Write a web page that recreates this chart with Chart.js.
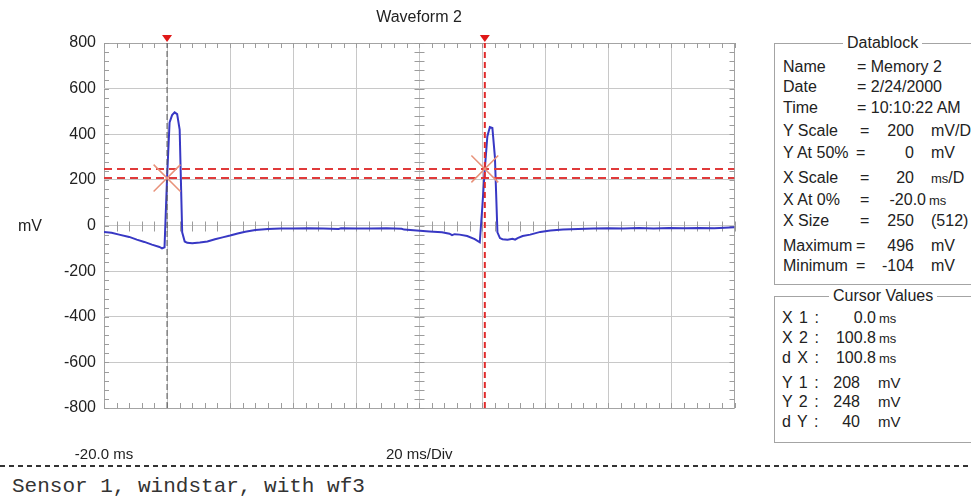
<!DOCTYPE html>
<html>
<head>
<meta charset="utf-8">
<script src="https://cdn.jsdelivr.net/npm/chart.js@4.4.1/dist/chart.umd.min.js"></script>
<style>
  body { margin: 0; width: 971px; height: 497px; overflow: hidden; background: #fff; position: relative;
         font-family: "Liberation Sans", Arial, sans-serif; color: #222; }
  .t { position: absolute; font-size: 16px; line-height: 18px; white-space: nowrap; }
  .r { text-align: right; }
  .u { font-size: 13px; }
  .box { position: absolute; border: 1px solid #a4a4a4; box-shadow: 1px 1px 0 #fff inset; }
  .cap { position: absolute; background: #fff; padding: 0 4px; font-size: 16px; line-height: 18px; }
</style>
</head>
<body>
<canvas id="scope" width="755" height="470" style="position:absolute;left:0;top:0"></canvas>

<div class="t" style="left:0;width:838px;top:8px;text-align:center">Waveform 2</div>
<div class="t" style="left:18px;top:217px">mV</div>

<!-- Datablock -->
<div class="box" style="left:774px;top:43px;width:240px;height:240px"></div>
<div class="cap" style="left:843px;top:34px">Datablock</div>
<div class="t" style="left:783px;top:58px">Name</div><div class="t" style="left:857px;top:58px">= Memory 2</div>
<div class="t" style="left:783px;top:78px">Date</div><div class="t" style="left:857px;top:78px">= 2/24/2000</div>
<div class="t" style="left:783px;top:99px">Time</div><div class="t" style="left:857px;top:99px">= 10:10:22 AM</div>
<div class="t" style="left:783px;top:122px">Y Scale</div><div class="t" style="left:860px;top:122px">=</div>
<div class="t r" style="left:870px;width:44px;top:122px">200</div><div class="t" style="left:931px;top:122px">mV/D</div>
<div class="t" style="left:783px;top:144px">Y At 50%</div><div class="t" style="left:856px;top:144px">=</div>
<div class="t r" style="left:870px;width:44px;top:144px">0</div><div class="t" style="left:931px;top:144px">mV</div>
<div class="t" style="left:783px;top:169px">X Scale</div><div class="t" style="left:860px;top:169px">=</div>
<div class="t r" style="left:870px;width:44px;top:169px">20</div><div class="t" style="left:931px;top:169px"><span class="u">ms</span>/D</div>
<div class="t" style="left:783px;top:191px">X At 0%</div><div class="t" style="left:860px;top:191px">=</div>
<div class="t r" style="left:860px;width:66px;top:191px">-20.0</div><div class="t u" style="left:929px;top:192px">ms</div>
<div class="t" style="left:783px;top:212px">X Size</div><div class="t" style="left:860px;top:212px">=</div>
<div class="t r" style="left:870px;width:44px;top:212px">250</div><div class="t" style="left:931px;top:212px">(512)</div>
<div class="t" style="left:783px;top:237px">Maximum</div><div class="t" style="left:856px;top:237px">=</div>
<div class="t r" style="left:870px;width:44px;top:237px">496</div><div class="t" style="left:931px;top:237px">mV</div>
<div class="t" style="left:783px;top:257px">Minimum</div><div class="t" style="left:856px;top:257px">=</div>
<div class="t r" style="left:870px;width:44px;top:257px">-104</div><div class="t" style="left:931px;top:257px">mV</div>

<!-- Cursor Values -->
<div class="box" style="left:774px;top:296px;width:240px;height:145px"></div>
<div class="cap" style="left:829px;top:287px">Cursor Values</div>
<div class="t" style="left:782px;top:309px;letter-spacing:1px">X 1 :</div>
<div class="t r" style="left:830px;width:46px;top:309px">0.0</div><div class="t u" style="left:879px;top:310px">ms</div>
<div class="t" style="left:782px;top:329px;letter-spacing:1px">X 2 :</div>
<div class="t r" style="left:830px;width:46px;top:329px">100.8</div><div class="t u" style="left:879px;top:330px">ms</div>
<div class="t" style="left:782px;top:349px;letter-spacing:1px">d X :</div>
<div class="t r" style="left:830px;width:46px;top:349px">100.8</div><div class="t u" style="left:879px;top:350px">ms</div>
<div class="t" style="left:782px;top:374px;letter-spacing:1px">Y 1 :</div>
<div class="t r" style="left:820px;width:40px;top:374px">208</div><div class="t" style="left:878px;top:374px;font-size:15px">mV</div>
<div class="t" style="left:782px;top:393px;letter-spacing:1px">Y 2 :</div>
<div class="t r" style="left:820px;width:40px;top:393px">248</div><div class="t" style="left:878px;top:393px;font-size:15px">mV</div>
<div class="t" style="left:782px;top:413px;letter-spacing:1px">d Y :</div>
<div class="t r" style="left:820px;width:40px;top:413px">40</div><div class="t" style="left:878px;top:413px;font-size:15px">mV</div>

<div style="position:absolute;left:0;top:465px;width:971px;height:1.5px;
  background:repeating-linear-gradient(90deg,#333 0 5px,transparent 5px 9px)"></div>
<div style="position:absolute;left:12px;top:475px;font:21px/24px 'Liberation Mono',monospace;color:#333">Sensor 1, windstar, with wf3</div>

<script>
// waveform samples (ms, mV)
const timeMs = [-20, -17.6, -15.2, -12.0, -9.6, -7.2, -4.8, -2.4, -1.6, -0.8,
  0, 0.8, 1.6, 2.4, 3.2, 4.0, 4.8, 5.6, 6.4, 8.0,
  10.4, 12.8, 15.2, 17.6, 20.0, 22.4, 24.8, 28.0, 32.0, 36.0,
  40.0, 44.8, 49.6, 54.4, 55.2, 60.0, 64.8, 69.6, 74.4, 75.2,
  79.2, 83.2, 87.2, 89.6, 90.4, 91.2, 92.8, 95.2, 97.6, 99.2,
  100.0, 100.8, 101.6, 102.4, 103.2, 104.0, 104.8, 105.6, 106.4, 108.0,
  109.6, 110.4, 111.2, 112.8, 115.2, 118.4, 121.6, 125.6, 130.4, 135.2,
  140.0, 144.8, 149.6, 154.4, 159.2, 164.0, 168.8, 173.6, 178.4, 180];
const voltageMv = [-28, -32, -40, -50, -62, -72, -84, -94, -100, -96,
  208, 452, 484, 496, 488, 420, -30, -70, -76, -78,
  -75, -70, -60, -52, -44, -35, -27, -20, -15, -13,
  -13, -12, -13, -15, -12, -13, -13, -12, -14, -18,
  -22, -26, -30, -36, -42, -38, -40, -46, -60, -74,
  80, 248, 390, 432, 428, 300, -30, -55, -60, -62,
  -58, -62, -55, -46, -40, -28, -22, -18, -15, -13,
  -12, -13, -11, -13, -11, -12, -11, -12, -9, -8];

// cursors
const cursorX1 = 0, cursorX2 = 100.8;
const cursorY1 = 208, cursorY2 = 248;

// axis setup (20 ms/div from -20 ms, 200 mV/div)
const xMin = -20, xMax = 180, xStep = 20;
const yMin = -800, yMax = 800, yStep = 200;
const xLabels = { '-20': '-20.0 ms', '80': '20 ms/Div' };

const trace = timeMs.map((t, i) => ({ x: t, y: voltageMv[i] }));

const scopeMarks = {
  id: 'scopeMarks',
  beforeDatasetsDraw(chart) {
    const { ctx, chartArea: a, scales: { x, y } } = chart;
    const cx = Math.round(x.getPixelForValue((xMin + xMax) / 2)) + 0.5;
    const cy = Math.round(y.getPixelForValue(0)) + 0.5;
    ctx.save();
    ctx.strokeStyle = '#9c9c9c';
    ctx.lineWidth = 1;
    ctx.beginPath();
    for (let v = xMin; v <= xMax; v += xStep / 5) {
      const px = Math.round(x.getPixelForValue(v)) + 0.5;
      ctx.moveTo(px, a.top); ctx.lineTo(px, a.top + 5);
      ctx.moveTo(px, a.bottom); ctx.lineTo(px, a.bottom - 5);
      ctx.moveTo(px, cy - 5); ctx.lineTo(px, cy + 5);
    }
    for (let v = yMin; v <= yMax; v += yStep / 5) {
      const py = Math.round(y.getPixelForValue(v)) + 0.5;
      ctx.moveTo(a.left, py); ctx.lineTo(a.left + 5, py);
      ctx.moveTo(a.right, py); ctx.lineTo(a.right - 5, py);
      ctx.moveTo(cx - 5, py); ctx.lineTo(cx + 5, py);
    }
    ctx.stroke();
    ctx.restore();
  },
  afterDraw(chart) {
    const { ctx, chartArea: a, scales: { x } } = chart;
    ctx.save();
    ctx.fillStyle = '#e01818';
    [cursorX1, cursorX2].forEach(v => {
      const px = x.getPixelForValue(v);
      ctx.beginPath();
      ctx.moveTo(px - 5, a.top - 8);
      ctx.lineTo(px + 5, a.top - 8);
      ctx.lineTo(px, a.top - 1);
      ctx.closePath();
      ctx.fill();
    });
    ctx.restore();
  }
};

new Chart(document.getElementById('scope'), {
  type: 'scatter',
  data: {
    datasets: [
      {
        data: [{ x: cursorX1, y: cursorY1 }, { x: cursorX2, y: cursorY2 }],
        pointStyle: 'crossRot',
        pointRadius: 19,
        borderColor: '#e8927a',
        borderWidth: 1.5,
      },
      {
        data: [{ x: cursorX1, y: yMin }, { x: cursorX1, y: yMax }],
        showLine: true, pointRadius: 0,
        borderColor: '#555555', borderWidth: 1, borderDash: [6, 3],
      },
      {
        data: [{ x: cursorX2, y: yMin }, { x: cursorX2, y: yMax }],
        showLine: true, pointRadius: 0,
        borderColor: '#e02a2a', borderWidth: 2, borderDash: [6, 4],
      },
      {
        data: [{ x: xMin, y: cursorY1 }, { x: xMax, y: cursorY1 }],
        showLine: true, pointRadius: 0,
        borderColor: '#e03a3a', borderWidth: 2, borderDash: [8, 5],
      },
      {
        data: [{ x: xMin, y: cursorY2 }, { x: xMax, y: cursorY2 }],
        showLine: true, pointRadius: 0,
        borderColor: '#e03a3a', borderWidth: 2, borderDash: [8, 5],
      },
      {
        data: trace,
        showLine: true, pointRadius: 0,
        borderColor: '#3838c4', borderWidth: 2,
      }
    ]
  },
  options: {
    responsive: false,
    animation: false,
    layout: { padding: { top: 43 } },
    plugins: {
      legend: { display: false },
      tooltip: { enabled: false },
      title: { display: false }
    },
    scales: {
      x: {
        type: 'linear', min: xMin, max: xMax,
        // fixed axis box; drop the tick-padding Chart.js adds on the sides
        afterFit: s => { s.height = 62; s.paddingLeft = 0; s.paddingRight = 0; },
        ticks: {
          stepSize: xStep, maxRotation: 0, autoSkip: false, padding: 38,
          color: '#222', font: { family: 'Liberation Sans', size: 15 },
          callback: v => xLabels[v] || ''
        },
        grid: {
          drawTicks: false,
          color: c => (c.tick.value === xMin || c.tick.value === xMax) ? '#a4a4a4' : '#c8c8c8'
        },
        border: { display: false }
      },
      y: {
        min: yMin, max: yMax,
        afterFit: s => { s.width = 104; },
        ticks: {
          stepSize: yStep, padding: 8,
          color: '#222', font: { family: 'Liberation Sans', size: 16 }
        },
        grid: {
          drawTicks: false,
          color: c => (c.tick.value === yMin || c.tick.value === yMax) ? '#a4a4a4' : '#c8c8c8'
        },
        border: { display: false }
      }
    }
  },
  plugins: [scopeMarks]
});
</script>
</body>
</html>
